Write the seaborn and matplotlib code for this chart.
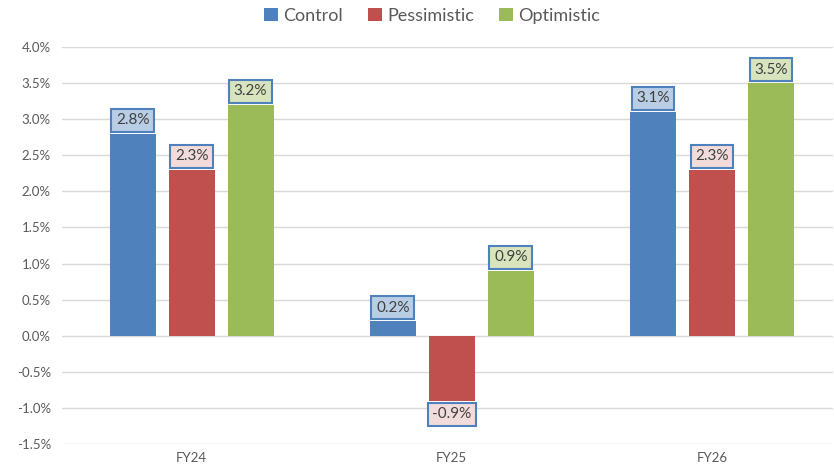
import matplotlib
matplotlib.use("Agg")
import matplotlib.pyplot as plt
import seaborn as sns
import pandas as pd
from matplotlib.ticker import FuncFormatter, MultipleLocator
from matplotlib.patches import Patch

categories = ["FY24", "FY25", "FY26"]
series = ["Control", "Pessimistic", "Optimistic"]
control = [2.8, 0.2, 3.1]
pessimistic = [2.3, -0.9, 2.3]
optimistic = [3.2, 0.9, 3.5]

colors = ["#4F81BD", "#C0504D", "#9BBB59"]
box_colors = ["#B9CDE5", "#F2DCDB", "#D7E4BD"]

rows = []
for s, vals in zip(series, [control, pessimistic, optimistic]):
    for c, v in zip(categories, vals):
        rows.append({"FY": c, "Scenario": s, "Value": v})
df = pd.DataFrame(rows)

sns.set_style("white")
plt.rcParams["font.family"] = ["Lato", "DejaVu Sans"]

fig = plt.figure(figsize=(8.34, 4.73), dpi=100)
ax = fig.add_axes([62 / 834, 1 - 444 / 473, (833 - 62) / 834, (444 - 47) / 473])

sns.barplot(data=df, x="FY", y="Value", hue="Scenario", order=categories,
            hue_order=series, palette=colors, ax=ax, width=0.68, gap=0.22,
            legend=False, saturation=1, linewidth=0)

ax.set_ylim(-1.5, 4.0)
ax.set_xlim(-0.498, 2.465)
ax.yaxis.set_major_locator(MultipleLocator(0.5))
ax.yaxis.set_major_formatter(FuncFormatter(lambda v, p: f"{v:.1f}%"))
ax.grid(axis="y", color="#D9D9D9", linewidth=1)
ax.set_axisbelow(True)
for sp in ax.spines.values():
    sp.set_visible(False)
ax.set_xlabel("")
ax.set_ylabel("")
ax.tick_params(axis="both", length=0, colors="#595959", labelsize=9.5)
ax.tick_params(axis="y", pad=8)
ax.tick_params(axis="x", pad=6)

for i, cont in enumerate(ax.containers):
    for bar in cont:
        v = bar.get_height() if bar.get_y() >= 0 else bar.get_y()
        x = bar.get_x() + bar.get_width() / 2
        if v >= 0:
            y = v + 0.09
            va = "bottom"
        else:
            y = v - 0.09
            va = "top"
        ax.annotate(f"{v:.1f}%", (x, y), ha="center", va=va, fontsize=11,
                    color="#404040",
                    bbox=dict(boxstyle="square,pad=0.3", facecolor=box_colors[i],
                              edgecolor="#4F81BD", linewidth=1.5))

handles = [Patch(facecolor=c, edgecolor="none") for c in colors]
fig.legend(handles, series, loc="center", bbox_to_anchor=(0.518, 0.966), ncol=3,
           frameon=False, fontsize=13, handlelength=0.75, handleheight=0.75,
           handletextpad=0.3, columnspacing=1.4, labelcolor="#595959")

fig.savefig("out.png", dpi=100)
